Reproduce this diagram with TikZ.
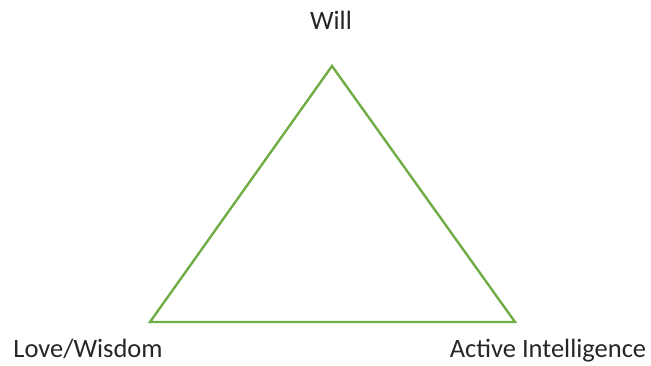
\documentclass[tikz,border=0pt]{standalone}
\usepackage{fontspec}
\setmainfont{Carlito}
\usepackage{tikz}
\usetikzlibrary{positioning}
\definecolor{officegreen}{HTML}{70AD47}

\begin{document}
\begin{tikzpicture}[
  x=1pt, y=-1pt,
  label/.style={anchor=base,inner sep=0pt,text=black!85,
                font=\fontsize{26.5}{32}\selectfont},
  edge/.style={draw=officegreen,line width=2.4pt,line join=miter}
]
\useasboundingbox (0,0) rectangle (651,365);
% corners of the triangle
\coordinate (top)   at (332,66);
\coordinate (left)  at (150,322);
\coordinate (right) at (515,322);
\draw[edge] (top) -- (left) -- (right) -- cycle;
% labels
\node[label] (will) at (331,29)  {Will};
\node[label] (love) at (88,357)  {Love/Wisdom};
\node[label] (act)  at (548,357) {Active Intelligence};
\end{tikzpicture}
\end{document}
